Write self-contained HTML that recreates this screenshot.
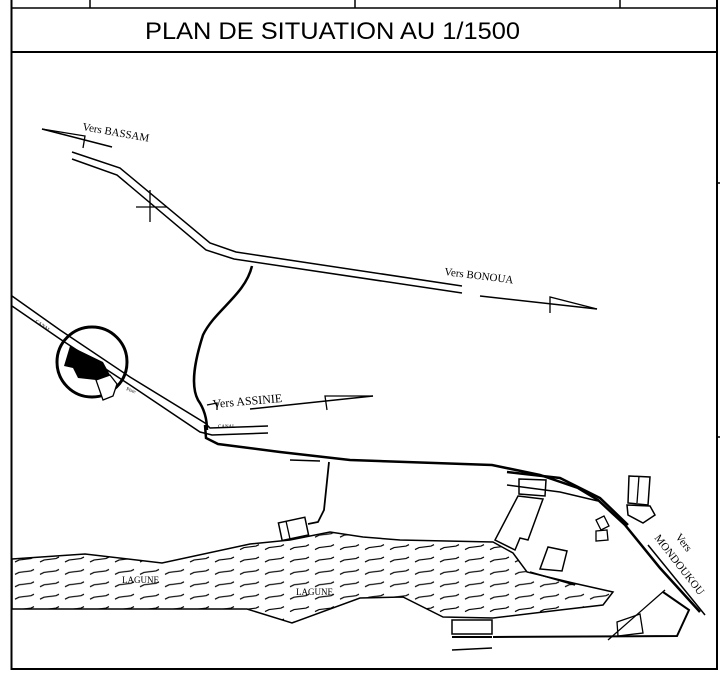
<!DOCTYPE html>
<html><head><style>
html,body{margin:0;padding:0;background:#fff;}
svg{display:block}
</style></head><body>
<svg width="720" height="678" viewBox="0 0 720 678" xmlns="http://www.w3.org/2000/svg">
<defs>
<pattern id="lag" x="12" y="552" width="25" height="12.4" patternUnits="userSpaceOnUse">
<path d="M3 10 L7 8 L19 6.5 L22 5" fill="none" stroke="#000" stroke-width="1.2"/>
</pattern>
</defs>
<rect width="720" height="678" fill="#fff"/>
<g stroke="#000" fill="none">
<!-- frame -->
<line x1="11.5" y1="0" x2="11.5" y2="670" stroke-width="2"/>
<line x1="717" y1="0" x2="717" y2="670" stroke-width="2"/>
<line x1="11" y1="8" x2="718" y2="8" stroke-width="1.5"/>
<line x1="11" y1="52" x2="718" y2="52" stroke-width="2"/>
<line x1="11" y1="669" x2="718" y2="669" stroke-width="2"/>
<line x1="90" y1="0" x2="90" y2="8" stroke-width="1.5"/>
<line x1="355" y1="0" x2="355" y2="8" stroke-width="1.5"/>
<line x1="620" y1="0" x2="620" y2="8" stroke-width="1.5"/>
<line x1="717" y1="183" x2="720" y2="183" stroke-width="1.5"/>
<line x1="717" y1="437" x2="720" y2="437" stroke-width="1.5"/>

<!-- lagoon -->
<path d="M12 559 L85 554 L162 563 L250 544 L290 540 L330 532 L363 537 L400 540 L493 542 L513 553 L527 572 L573 583 L613 592 L603 605 L560 610 L493 618 L443 617 L403 597 L360 598 L292 623 L247 609 L12 609 Z" fill="url(#lag)" stroke-width="1.5"/>

<!-- Bassam / Bonoua road -->
<path d="M72 152 L120 168 L210 243 L236 252 L462 286" stroke-width="1.5"/>
<path d="M72 159 L117 175 L206 250 L234 259 L462 293" stroke-width="1.5"/>
<line x1="42" y1="129" x2="112" y2="147" stroke-width="1.5"/>
<path d="M42 129 L85 136 L83 148" stroke-width="1.3"/>
<line x1="150" y1="190" x2="150" y2="222" stroke-width="1.3"/>
<line x1="136" y1="207" x2="167" y2="207" stroke-width="1.3"/>
<line x1="480" y1="296" x2="597" y2="309" stroke-width="1.5"/>
<path d="M597 309 L550 297 L550 313" stroke-width="1.3"/>

<!-- curvy road -->
<path d="M252 266 C245 295 215 310 203 335 C195 360 190 385 198 400 C205 410 207 420 207 430" stroke-width="2.5"/>

<!-- canal -->
<path d="M12 296 L60 330 L130 377 L205 423 L210 428 L268 426" stroke-width="1.5"/>
<path d="M12 306 L60 339 L130 385 L200 432 L212 435 L268 433" stroke-width="1.5"/>

<!-- main road -->
<path d="M205 425 L206 438 L218 444 L280 452 L350 460 L492 465 L540 475 L578 488 L598 500 L625 525 L660 568 L700 612" stroke-width="2.5"/>
<path d="M507 472 L560 478 L600 498 L628 525" stroke-width="2.5"/>
<path d="M507 485 L560 492 L598 501" stroke-width="1.5"/>
<line x1="648" y1="545" x2="705" y2="615" stroke-width="1.5"/>
<line x1="290" y1="460" x2="320" y2="461" stroke-width="1.5"/>
<!-- assinie leader -->
<path d="M207 405 L217 403 L217 410" stroke-width="1.3"/>
<line x1="250" y1="409" x2="373" y2="396" stroke-width="1.5"/>
<path d="M373 396 L325 396 L327 410" stroke-width="1.3"/>

<!-- small connector to building -->
<path d="M329 462 L324 510 L318 522 L308 524" stroke-width="1.8"/>
<rect x="280" y="520" width="27" height="18" transform="rotate(-12 293 529)" stroke-width="1.5"/>
<line x1="286" y1="521" x2="290" y2="539" stroke-width="1.3"/>

<!-- buildings right -->
<path d="M519 479 L546 480 L545 496 L519 494 Z" stroke-width="1.5"/>
<path d="M518 496 L543 499 L528 540 L520 538 L515 550 L495 540 Z" stroke-width="1.5"/>
<path d="M548 547 L567 551 L562 571 L540 569 Z" stroke-width="1.5"/>
<path d="M530 572 L575 585" stroke-width="1.5"/>
<path d="M629 476 L650 477 L648 505 L628 503 Z" stroke-width="1.5"/>
<line x1="639" y1="476" x2="637" y2="503" stroke-width="1.3"/>
<path d="M627 505 L650 506 L655 515 L643 523 L628 515 Z" stroke-width="1.5"/>
<path d="M596 520 L604 516 L609 526 L601 530 Z" stroke-width="1.3"/>
<path d="M596 531 L607 530 L608 540 L596 541 Z" stroke-width="1.3"/>
<path d="M617 622 L640 614 L643 633 L618 636 Z" stroke-width="1.3"/>
<path d="M608 640 L665 590" stroke-width="1.3"/>
<path d="M493 637 L677 636 L689 610 L663 592" stroke-width="2"/>
<rect x="452" y="620" width="40" height="14" stroke-width="1.5"/>
<line x1="452" y1="637" x2="492" y2="637" stroke-width="2"/>
<line x1="452" y1="650" x2="492" y2="648" stroke-width="1.5"/>

<!-- circle -->
<circle cx="92" cy="362" r="35" stroke-width="3"/>
</g>
<path d="M70 346 L103 362 L110 375 L96 380 L78 378 L73 368 L64 366 Z" fill="#000"/>
<path d="M96 380 L110 375 L117 384 L113 396 L103 400 Z" fill="#fff" stroke="#000" stroke-width="1.3"/>

<g font-family="Liberation Serif, serif" fill="#000">
<text x="145" y="39" font-family="Liberation Sans, sans-serif" font-size="24" textLength="375" lengthAdjust="spacingAndGlyphs">PLAN DE SITUATION AU 1/1500</text>
<text x="82" y="130" font-size="11" transform="rotate(10 82 130)">Vers  BASSAM</text>
<text x="444" y="275" font-size="11" transform="rotate(7 444 275)">Vers  BONOUA</text>
<text x="213" y="408" font-size="12" transform="rotate(-5 213 408)">Vers  ASSINIE</text>
<text x="122" y="583" font-size="9">LAGUNE</text>
<text x="296" y="595" font-size="9">LAGUNE</text>
<text x="675" y="537" font-size="11" transform="rotate(52 675 537)">Vers</text>
<text x="654" y="538" font-size="11" transform="rotate(52 654 538)">MONDOUKOU</text>
<text x="35" y="322" font-size="5" transform="rotate(35 35 322)">CANAL</text>
<text x="218" y="428" font-size="5">CANAL</text>
<text x="126" y="390" font-size="5" transform="rotate(20 126 390)">Piste</text>
</g>
</svg>
</body></html>
